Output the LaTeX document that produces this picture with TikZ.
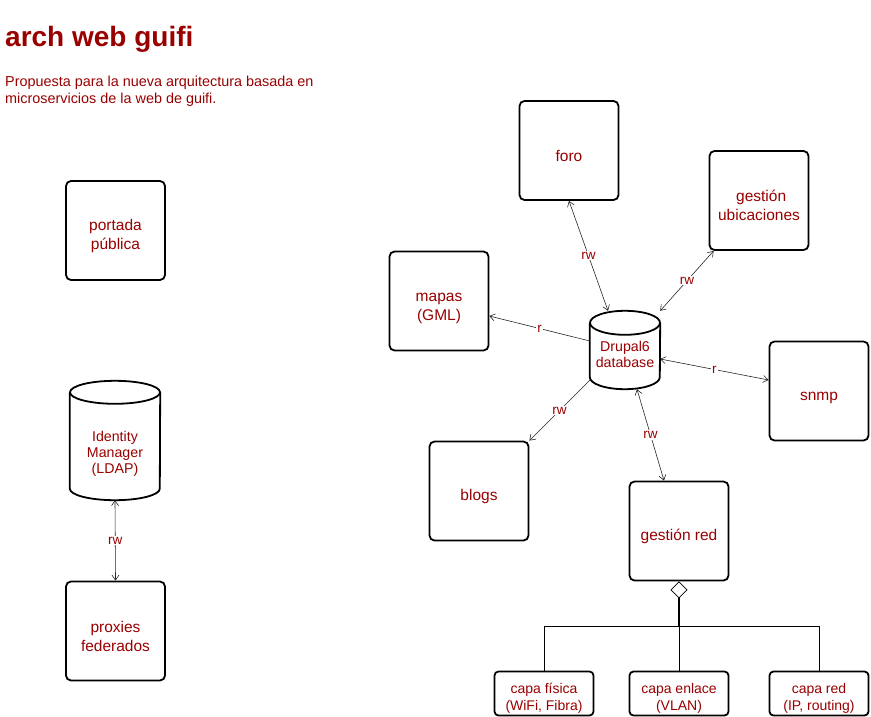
\documentclass[tikz,border=0pt]{standalone}
\usepackage{fontspec}
\setmainfont{Liberation Sans}
\usetikzlibrary{calc,arrows.meta}

\definecolor{guifired}{RGB}{153,0,0}

\tikzset{
	caja/.style={draw, line width=1.8pt, rounded corners=5pt, minimum width=99pt, minimum height=99pt, align=center, text=guifired, font=\fontsize{15.5}{19}\selectfont},
	capa/.style={draw, line width=1.8pt, rounded corners=4pt, minimum width=99pt, minimum height=44pt, inner ysep=0pt, align=center, text=guifired, font=\fontsize{14}{17}\selectfont},
	basedatos/.style={inner sep=0pt, align=center, text=guifired, font=\fontsize{14.2}{16}\selectfont},
	rel/.style={line width=0.6pt, draw=black!85, >={Straight Barb[length=5pt,width=7pt]}},
	etq/.style={fill=white, inner sep=1pt, text=guifired, font=\fontsize{13.5}{15}\selectfont},
}

% baja un poco el texto dentro de las cajas
\newcommand{\sube}[1][23]{\rule{0pt}{#1pt}}

% cilindro alrededor de un nodo: nombre, radio x, radio y, desplazamiento de la tapa
\newcommand{\dbcyl}[4]{%
	\draw[line width=1.8pt] ($(#1.north)+(0,#4)$) ellipse [x radius=#2pt, y radius=#3pt];
	\draw[line width=1.8pt] ($(#1.north west)+(0,#4)$) -- ($(#1.south west)+(0,-#3)$)
		arc [start angle=180, end angle=360, x radius=#2pt, y radius=#3pt] -- ($(#1.north east)+(0,#4)$);
}

\begin{document}
\begin{tikzpicture}[x=1pt, y=-1pt]
		\useasboundingbox (0,0) rectangle (871,717);
		\node (tit) at (5,47) [anchor=base west, inner sep=0pt, text=guifired, font=\bfseries\fontsize{28}{30}\selectfont] {arch web guifi};
		\node (sub) at (5,75.5) [anchor=north west, inner sep=0pt, align=left, text=guifired, font=\fontsize{14.4}{17}\selectfont] {Propuesta para la nueva arquitectura basada en\\microservicios de la web de guifi.};

		\node (pp) at (115.5,230.5) [caja] {\sube portada\\pública};
		\node (ldap) at (115,454) [basedatos, minimum width=90pt, minimum height=92pt] {Identity\\Manager\\(LDAP)};
		\node (pf) at (115.5,631) [caja] {\sube proxies\\federados};
		\dbcyl{ldap}{45}{11.5}{-15.5}
		\draw[rel, <->] (ldap.south) -- node[etq] {rw} (pf.north);

		\node (foro) at (569,150.5) [caja] {\sube foro};
		\node (ubi) at (759,200.5) [caja] {\sube[21] gestión\\ubicaciones};
		\node (map) at (439,301) [caja] {\sube mapas\\(GML)};
		\node (db) at (625,354) [basedatos, minimum width=70pt, minimum height=70pt] {Drupal6\\database};
		\node (snmp) at (819,391) [caja] {\sube snmp};
		\node (blog) at (479,491) [caja] {\sube blogs};
		\node (red) at (679,531) [caja] {\sube gestión red};
		\dbcyl{db}{35}{12}{4}

		\draw[rel, <->] (foro.south) -- node[etq] {rw} ($(db.north)+(-17,-8)$);
		\draw[rel, <->] ($(ubi.south west)+(5,0)$) -- node[etq] {rw} ($(db.north east)+(0,-8)$);
		\draw[rel, ->] ($(db.west)+(0,-13)$) -- node[etq] {r} ($(map.east)+(0,15)$);
		\draw[rel, <->] ($(db.east)+(0,5)$) -- node[etq] {r} ($(snmp.west)+(0,-11)$);
		\draw[rel, ->] ($(db.south west)+(0,-9)$) -- node[etq] {rw} (blog.north east);
		\draw[rel, <->] ($(db.south)+(12,0)$) -- node[etq] {rw} ($(red.north)+(-15,0)$);

		\node (fis) at (544,693.5) [capa] {\sube[20]capa física\\(WiFi, Fibra)};
		\node (enl) at (679,693.5) [capa] {\sube[20]capa enlace\\(VLAN)};
		\node (cred) at (819,693.5) [capa] {\sube[20]capa red\\(IP, routing)};
		\coordinate (agg) at (679,626);
		\draw[line width=1.8pt, {Diamond[open, length=17pt, width=17pt, line width=0.7pt]}-] (red.south) -- (agg);
		\draw[line width=0.8pt] (agg) -| (fis.north);
		\draw[line width=0.8pt] (agg) -| (cred.north);
		\draw[line width=0.8pt] (agg) -- (enl.north);
	\end{tikzpicture}
\end{document}
